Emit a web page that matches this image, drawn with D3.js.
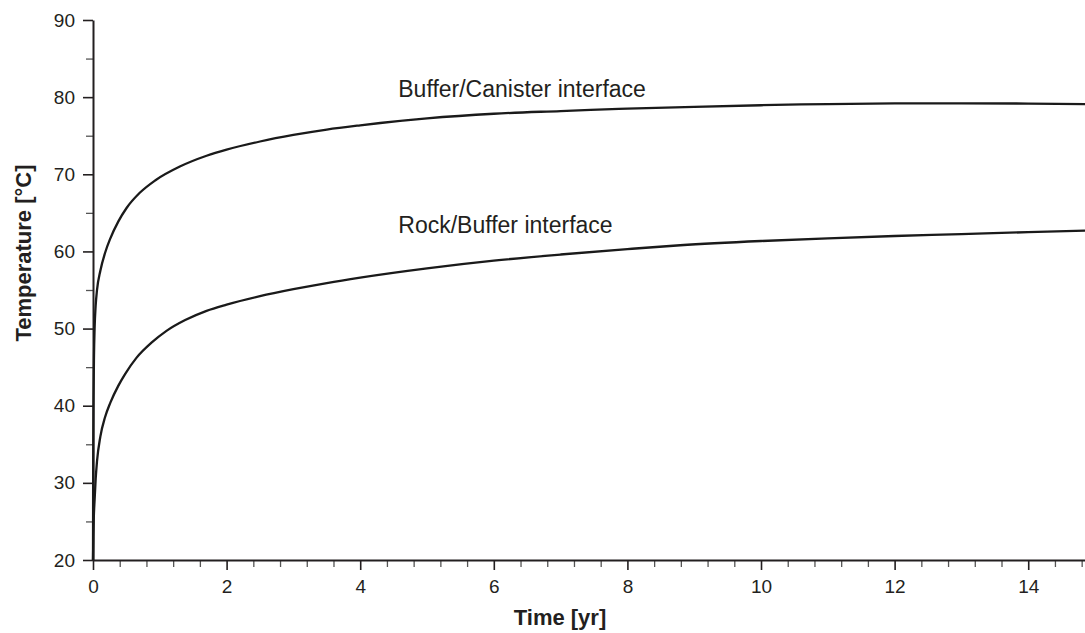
<!DOCTYPE html>
<html>
<head>
<meta charset="utf-8">
<script src="https://cdn.jsdelivr.net/npm/d3@7"></script>
<style>
  html, body { margin: 0; padding: 0; background: #fff; }
  svg text { font-family: "Liberation Sans", Arial, Helvetica, sans-serif; fill: #231f20; }
</style>
</head>
<body>
<svg id="chart" width="1085" height="633"></svg>
<script>
// Temperature history at the two interfaces (time in years, temperature in °C)
const canisterTime = [0, 0.003, 0.008, 0.015, 0.024, 0.04, 0.06, 0.11, 0.18, 0.26, 0.38, 0.5, 0.7, 0.93, 1.3, 1.7, 2, 2.5, 3, 3.5, 4, 4.3, 5, 6, 7, 7.45, 8, 9, 10, 10.6, 11, 12, 13, 14, 14.85];
const canisterTemp = [20, 33, 41, 46.5, 50, 53, 55, 57.5, 59.8, 61.7, 63.9, 65.6, 67.6, 69.2, 71.0, 72.4, 73.2, 74.25, 75.1, 75.8, 76.35, 76.65, 77.25, 77.85, 78.2, 78.35, 78.5, 78.75, 78.95, 79.05, 79.1, 79.18, 79.2, 79.17, 79.1];

const rockTime = [0, 0.005, 0.012, 0.024, 0.04, 0.06, 0.11, 0.18, 0.26, 0.38, 0.48, 0.65, 0.88, 1.1, 1.38, 1.7, 2, 2.5, 3, 3.5, 4, 5, 6, 7, 8, 8.79, 10, 11, 12, 13, 14, 14.85];
const rockTemp = [20, 23, 25.5, 27.8, 30.5, 32.8, 36, 38.5, 40.4, 42.6, 44.1, 46.2, 48.2, 49.7, 51.1, 52.3, 53.1, 54.2, 55.1, 55.9, 56.6, 57.8, 58.8, 59.6, 60.3, 60.8, 61.35, 61.7, 62.0, 62.25, 62.5, 62.7];

const xTickValues = [0, 2, 4, 6, 8, 10, 12, 14];
const yTickValues = [20, 30, 40, 50, 60, 70, 80, 90];
const seriesLabels = ["Buffer/Canister interface", "Rock/Buffer interface"];

const svg = d3.select("#chart");
const margin = { left: 93, right: 0, top: 20, bottom: 73 };
const W = 1085, H = 633;

const x = d3.scaleLinear().domain([0, 14.85]).range([margin.left, W - margin.right]);
const y = d3.scaleLinear().domain([20, 90]).range([H - margin.bottom, margin.top]);

const ink = "#231f20";

// Minor ticks first, then the axes with their labelled ticks
const xMinor = d3.range(0, 14.85, 0.4).filter(v => Math.abs(v / 2 - Math.round(v / 2)) > 1e-6);
svg.append("g")
  .attr("transform", `translate(0,${y(20)})`)
  .call(d3.axisBottom(x).tickValues(xMinor).tickSize(7).tickFormat(""))
  .call(g => g.select(".domain").remove())
  .call(g => g.selectAll(".tick line").attr("stroke", "#555").attr("stroke-width", 1.3));

const yMinor = [25, 35, 45, 55, 65, 75, 85];
svg.append("g")
  .attr("transform", `translate(${x(0)},0)`)
  .call(d3.axisLeft(y).tickValues(yMinor).tickSize(7).tickFormat(""))
  .call(g => g.select(".domain").remove())
  .call(g => g.selectAll(".tick line").attr("stroke", "#555").attr("stroke-width", 1.3));

const xAxis = svg.append("g")
  .attr("transform", `translate(0,${y(20)})`)
  .call(d3.axisBottom(x).tickValues(xTickValues).tickSize(10).tickSizeOuter(0).tickPadding(10));
xAxis.select(".domain").attr("stroke", ink).attr("stroke-width", 2);
xAxis.selectAll(".tick line").attr("stroke", ink).attr("stroke-width", 1.6);
xAxis.selectAll(".tick text").style("font-size", "19px").attr("fill", ink);

const yAxis = svg.append("g")
  .attr("transform", `translate(${x(0)},0)`)
  .call(d3.axisLeft(y).tickValues(yTickValues).tickSize(10).tickSizeOuter(0).tickPadding(8));
yAxis.select(".domain").attr("stroke", ink).attr("stroke-width", 2);
yAxis.selectAll(".tick line").attr("stroke", ink).attr("stroke-width", 1.6);
yAxis.selectAll(".tick text").style("font-size", "19px").attr("fill", ink);

// Temperature curves
const line = d3.line().x(d => x(d[0])).y(d => y(d[1])).curve(d3.curveMonotoneX);
const series = [
  d3.zip(canisterTime, canisterTemp),
  d3.zip(rockTime, rockTemp)
];
svg.append("g").selectAll("path")
  .data(series)
  .join("path")
  .attr("d", line)
  .attr("fill", "none")
  .attr("stroke", "#1a1a1a")
  .attr("stroke-width", 2.3);

// Curve annotations, placed in data units just above each curve
const labelPos = [[4.57, 80.0], [4.57, 62.4]];
svg.append("g").selectAll("text")
  .data(seriesLabels)
  .join("text")
  .attr("x", (d, i) => x(labelPos[i][0]))
  .attr("y", (d, i) => y(labelPos[i][1]))
  .style("font-size", "23px")
  .text(d => d);

// Axis titles
svg.append("text")
  .attr("x", 560)
  .attr("y", 625)
  .attr("text-anchor", "middle")
  .style("font-size", "22px")
  .style("font-weight", "bold")
  .text("Time [yr]");

svg.append("text")
  .attr("transform", "translate(31,253) rotate(-90)")
  .attr("text-anchor", "middle")
  .style("font-size", "22px")
  .style("font-weight", "bold")
  .text("Temperature [°C]");
</script>
</body>
</html>
